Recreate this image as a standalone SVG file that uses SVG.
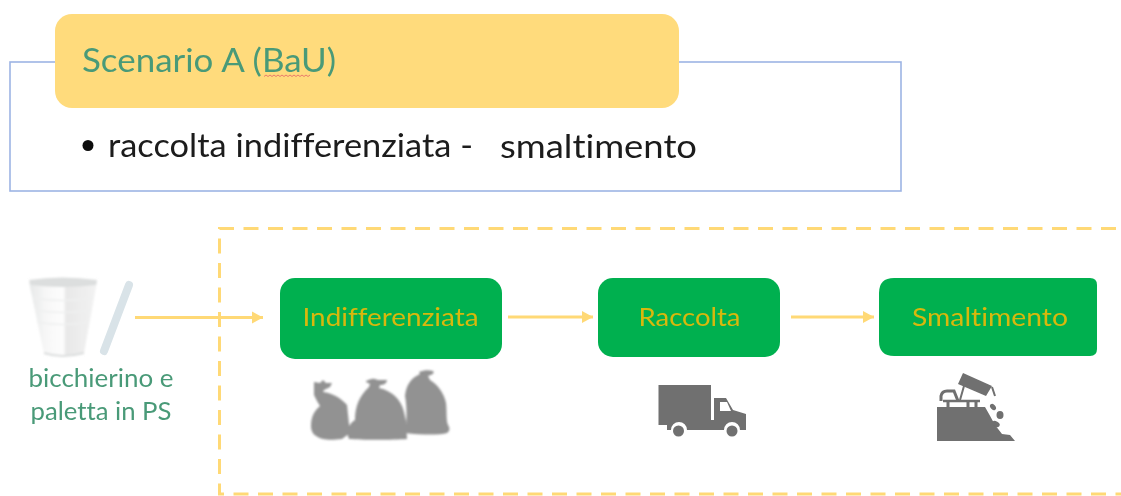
<svg xmlns="http://www.w3.org/2000/svg" width="1121" height="496" viewBox="0 0 1121 496">
<style>
text{font-family:"Lato","Noto Sans","Liberation Sans",sans-serif;font-variant-ligatures:none}
.soft{filter:url(#soft)}
.box{fill:#00b050}
.nl{font-size:25px;fill:#d8b80c;text-anchor:middle}
.gl{fill:#4a9a78}
.conn{stroke:#ffd976;stroke-width:3;fill:none;marker-end:url(#ah)}
.ic{fill:#929292}
.dk{fill:#6f6f6f}
.ring{fill:none;stroke:#eff0f0;stroke-width:1.500}
</style>
<defs>
<filter id="soft" x="-5%" y="-5%" width="110%" height="110%"><feGaussianBlur stdDeviation="0.55"/></filter>
<filter id="soft2" x="-10%" y="-10%" width="120%" height="120%"><feGaussianBlur stdDeviation="0.9"/></filter>
<marker id="ah" markerUnits="userSpaceOnUse" markerWidth="12" markerHeight="14" refX="11" refY="7" orient="auto"><path d="M0 1 L11 7 L0 13 Z" fill="#ffd976"/></marker>
<linearGradient id="cup" x1="0" x2="1" y1="0" y2="0"><stop offset="0" stop-color="#e6e8e8"/><stop offset=".25" stop-color="#f7f7f7"/><stop offset=".5" stop-color="#fdfdfd"/><stop offset=".55" stop-color="#e8e8e8"/><stop offset="1" stop-color="#f3f3f3"/></linearGradient>
</defs>
<g class="soft">
<g id="scenario-frame"><rect x="10" y="62" width="891" height="129" fill="#fff" stroke="#9db4e4" stroke-width="1.6"/></g>
<g id="scenario-title">
<rect x="55" y="14" width="624" height="94" rx="17" fill="#ffdb7c"/>
<text x="82" y="71.500" font-size="33" class="gl" textLength="254" lengthAdjust="spacingAndGlyphs">Scenario A (BaU)</text>
<path d="M264 76.500l2-1.500 2 1.500 2-1.500 2 1.500 2-1.500 2 1.500 2-1.500 2 1.500 2-1.500 2 1.500 2-1.500 2 1.500 2-1.500 2 1.500 2-1.500 2 1.500 2-1.500 2 1.500 2-1.500 2 1.500 2-1.500 2 1.500 2-1.500" fill="none" stroke="#ea7a6c" stroke-width="1"/>
</g>
<g id="scenario-text">
<circle cx="88" cy="145.500" r="5.500" fill="#111"/>
<text x="108" y="157" font-size="33" fill="#1a1a1a" textLength="365" lengthAdjust="spacingAndGlyphs">raccolta indifferenziata -</text>
<text x="500" y="158" font-size="33" fill="#1a1a1a" textLength="197" lengthAdjust="spacingAndGlyphs">smaltimento</text>
</g>
<g id="boundary"><path d="M1116 228.500H219.500V494H1121" fill="none" stroke="#ffd976" stroke-width="3" stroke-dasharray="15 9.500"/></g>
<g id="cup-item">
<g filter="url(#soft2)">
<path d="M29 282 Q62 276 97 282 L84 353 Q62 359 44 353 Z" fill="url(#cup)"/>
<path d="M33 298Q62 303 93 298M35 310Q62 315 91 310M37 322Q62 327 89 322" class="ring"/>
<path d="M29 280 Q62 275 97 280 L96 285 Q62 289 31 285Z" fill="#dcdede"/>
<path d="M44 353Q62 359 84 353" fill="none" stroke="#dcdede" stroke-width="2"/>
</g>
<path d="M129 285 L104 351" stroke="#d9e3e8" stroke-width="8" stroke-linecap="round" fill="none"/>
<text x="101" y="387" font-size="25" class="gl" text-anchor="middle" textLength="145" lengthAdjust="spacingAndGlyphs">bicchierino e</text>
<text x="101" y="420" font-size="25" class="gl" text-anchor="middle" textLength="141" lengthAdjust="spacingAndGlyphs">paletta in PS</text>
</g>
<g id="connectors">
<path class="conn" d="M135 317.500H263"/>
<path class="conn" d="M508 317H593"/>
<path class="conn" d="M791 317H874"/>
</g>
<g id="node-indifferenziata">
<rect class="box" x="280" y="278" width="222" height="81" rx="15"/>
<text class="nl" x="390.500" y="326" textLength="176" lengthAdjust="spacingAndGlyphs">Indifferenziata</text>
<g filter="url(#soft2)">
<path class="ic" d="M314 382l6 1 3-3 3 3 6 0-2 4-6 3-1 2c9 1 18 6 24 13l3 28-8 6c-8 1-15 1-19 0-8-2-12-6-12-13 0-9 3-15 9-20l-3-5-3-6z"/>
<path class="ic" d="M366 381c3-1 6-3 9-2l3 1 9 0c0 3-3 5-7 5l-1 3c13 3 22 11 25 24l2 9 1 18c-14 1-46 1-58 0l-2-6c0-5 4-11 8-13 0-13 4-24 14-33l1-3-4-2z"/>
<path class="ic" d="M419 372c5-2 10-2 14-1 2 2-1 4-5 5l2 4c8 5 14 13 16 23 1 9 0 17 2 22 2 3 2 6-1 8-7 2-24 2-42 0 2-11 2-27 0-37 1-11 6-18 15-22z"/>
</g>
</g>
<g id="node-raccolta">
<rect class="box" x="598" y="278" width="182" height="79" rx="15"/>
<text class="nl" x="689.500" y="326" textLength="102" lengthAdjust="spacingAndGlyphs">Raccolta</text>
<path class="dk" fill-rule="evenodd" d="M658.500 385H711V420H714V398H726L733 410 746 414V430H740A8 8 0 0 0 724 430H687A8 8 0 0 0 671 430H667V425H658.500ZM720 402V411H731L727 402Z"/>
<circle class="dk" cx="678.500" cy="431" r="5.500"/>
<circle class="dk" cx="732" cy="431" r="5.500"/>
</g>
<g id="node-smaltimento">
<path class="box" d="M894 278H1090Q1097 278 1097 285V349Q1097 356 1090 356H894Q879 356 879 341V293Q879 278 894 278Z"/>
<text class="nl" x="990" y="326" textLength="156" lengthAdjust="spacingAndGlyphs">Smaltimento</text>
<path class="dk" d="M937 407H985L989 414 995 425 1002 434 1010 435 1015 441H937Z"/>
<path class="dk" d="M963 373L992 386 986 396 958 384Z"/>
<path d="M964 386L960 400M992 387L995 396" stroke="#6f6f6f" stroke-width="2" fill="none"/>
<path d="M941 401V396Q942 391 947 391H954L958 401" fill="none" stroke="#6f6f6f" stroke-width="3"/>
<path d="M943 401H980" stroke="#6f6f6f" stroke-width="2.500"/>
<path d="M948 400V407M968 400V407M976 400V407" stroke="#6f6f6f" stroke-width="3"/>
<ellipse class="dk" cx="993" cy="407" rx="3.500" ry="2.500" transform="rotate(50 993 407)"/>
<ellipse class="dk" cx="1000" cy="415" rx="3.500" ry="4"/>
<ellipse class="dk" cx="996" cy="424" rx="4" ry="2.500" transform="rotate(30 996 424)"/>
</g>
</g>
</svg>
